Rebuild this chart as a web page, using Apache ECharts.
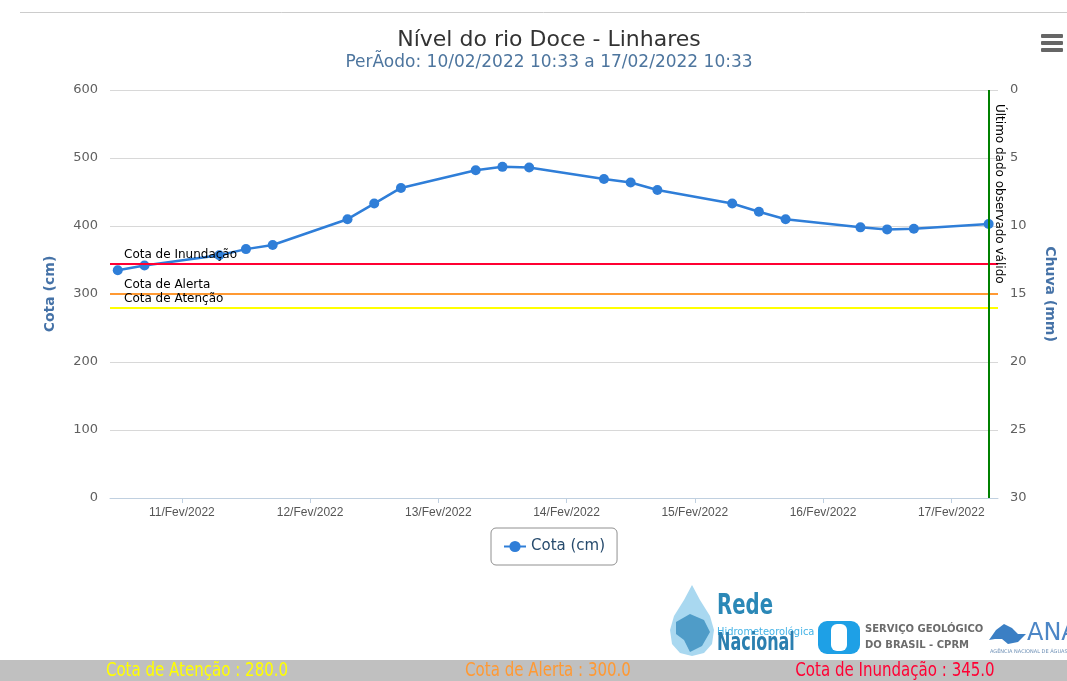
<!DOCTYPE html>
<html>
<head>
<meta charset="utf-8">
<script src="https://cdn.jsdelivr.net/npm/echarts@6/dist/echarts.min.js"></script>
<style>
html,body{margin:0;padding:0;background:#fff;}
#chart{width:1067px;height:681px;}
</style>
</head>
<body>
<div id="chart"></div>
<script>
// ---- data ----
var titleText = 'Nível do rio Doce - Linhares';
var subtitleText = 'PerÃodo: 10/02/2022 10:33 a 17/02/2022 10:33';
var times = ['2022-02-10 12:00','2022-02-10 17:00','2022-02-11 07:00','2022-02-11 12:00','2022-02-11 17:00',
  '2022-02-12 07:00','2022-02-12 12:00','2022-02-12 17:00','2022-02-13 07:00','2022-02-13 12:00','2022-02-13 17:00',
  '2022-02-14 07:00','2022-02-14 12:00','2022-02-14 17:00','2022-02-15 07:00','2022-02-15 12:00','2022-02-15 17:00',
  '2022-02-16 07:00','2022-02-16 12:00','2022-02-16 17:00','2022-02-17 07:00'];
var cota = [335,342,357,366,372,410,433,456,482,487,486,469,464,453,433,421,410,398,395,396,403];
var xMin = '2022-02-10 10:33';
var xMax = '2022-02-17 08:45';
var monthNames = ['Jan','Fev','Mar','Abr','Mai','Jun','Jul','Ago','Set','Out','Nov','Dez'];
var thresholdNames = ['Cota de Atenção','Cota de Alerta','Cota de Inundação'];
var thresholdValues = [280, 300, 345];
var thresholdColors = ['#ffff00','#ff9933','#ff0033'];
var lastLabel = 'Último dado observado válido';
var seriesName = 'Cota (cm)';
var leftAxisName = 'Cota (cm)';
var rightAxisName = 'Chuva (mm)';

function parseT(s){
  var p = s.split(/[- :]/).map(Number);
  return new Date(p[0], p[1]-1, p[2], p[3], p[4]).getTime();
}
var seriesData = times.map(function(t,i){ return [parseT(t), cota[i]]; });
var lastT = parseT(times[times.length-1]);

var markData = thresholdValues.map(function(v,i){
  return {yAxis: v, name: thresholdNames[i], lineStyle:{color: thresholdColors[i], width:2, type:'solid'}};
});
markData.push([
  {xAxis: lastT, yAxis: 600, name: lastLabel, lineStyle:{color:'#008000', width:2, type:'solid'},
   label:{position:'insideStartTop', distance:[14,4]}},
  {xAxis: lastT, yAxis: 0}
]);

var NARROW = '"Liberation Sans Narrow","Arial Narrow","DejaVu Sans Condensed","DejaVu Sans",sans-serif';
var bottomTextCenters = [197, 548, 895];
var graphics = [
  {type:'line', shape:{x1:20,y1:12.5,x2:1067,y2:12.5}, style:{stroke:'#cccccc', lineWidth:1}, silent:true},
  {type:'text', x:549, y:40, style:{text:titleText, fill:'#333333', font:'22px "DejaVu Sans"', align:'center', verticalAlign:'middle'}},
  {type:'text', x:549, y:63, style:{text:subtitleText, fill:'#4d759e', font:'17px "DejaVu Sans"', align:'center', verticalAlign:'middle'}},
  {type:'rect', shape:{x:1041,y:34,width:22,height:4,r:1}, style:{fill:'#666'}},
  {type:'rect', shape:{x:1041,y:41,width:22,height:4,r:1}, style:{fill:'#666'}},
  {type:'rect', shape:{x:1041,y:48,width:22,height:4,r:1}, style:{fill:'#666'}},
  {type:'rect', shape:{x:0,y:660,width:1067,height:21}, style:{fill:'#c0c0c0'}},
  // logos (approximate)
  {type:'polygon', shape:{points:[[692,585],[684,600],[674,616],[670,630],[672,644],[680,653],[692,656],[704,653],[712,644],[714,630],[710,616],[700,600]]}, style:{fill:'#a9d8f0'}},
  {type:'polygon', shape:{points:[[676,622],[690,614],[704,620],[710,632],[702,646],[690,652],[684,640],[676,634]]}, style:{fill:'#4f9cc8'}},
  {type:'text', x:717, y:621, scaleX:0.68, style:{text:'Rede', fill:'#2b88b7', font:'bold 29px "DejaVu Sans"', verticalAlign:'bottom'}},
  {type:'text', x:717, y:632, scaleX:0.9, style:{text:'Hidrometeorológica', fill:'#44b3e6', font:'11px "DejaVu Sans"', verticalAlign:'middle'}},
  {type:'text', x:717, y:656, scaleX:0.64, style:{text:'Nacional', fill:'#2b7fb0', font:'bold 25px "DejaVu Sans"', verticalAlign:'bottom'}},
  {type:'rect', shape:{x:818,y:621,width:42,height:33,r:9}, style:{fill:'#1ea0e6'}},
  {type:'rect', shape:{x:831,y:624,width:16,height:27,r:6}, style:{fill:'#ffffff'}},
  {type:'text', x:865, y:629, style:{text:'SERVIÇO GEOLÓGICO', fill:'#6b6b6b', font:'bold 10px "DejaVu Sans"', verticalAlign:'middle'}},
  {type:'text', x:865, y:645, style:{text:'DO BRASIL - CPRM', fill:'#6b6b6b', font:'bold 10px "DejaVu Sans"', verticalAlign:'middle'}},
  {type:'polygon', shape:{points:[[989,640],[996,630],[1004,624],[1012,628],[1018,634],[1026,634],[1018,642],[1008,644],[1002,639],[995,639]]}, style:{fill:'#3b7fc4'}},
  {type:'text', x:1027, y:634, style:{text:'ANA', fill:'#4c86c6', font:'24px "DejaVu Sans"', verticalAlign:'middle'}},
  {type:'text', x:990, y:652, style:{text:'AGÊNCIA NACIONAL DE ÁGUAS', fill:'#6d8fb5', font:'5px "DejaVu Sans"', verticalAlign:'middle'}}
];
thresholdNames.forEach(function(n,i){
  graphics.push({type:'text', x:bottomTextCenters[i], y:671, scaleX:0.88, style:{
    text: n + ' : ' + thresholdValues[i].toFixed(1), fill: thresholdColors[i],
    font:'19px ' + NARROW, align:'center', verticalAlign:'middle'}});
});

var chart = echarts.init(document.getElementById('chart'), null, {renderer:'canvas'});
chart.setOption({
  animation:false,
  backgroundColor:'#ffffff',
  grid:{left:110, right:69, top:90, bottom:183, containLabel:false},
  legend:{
    left:491, top:528, padding:[11,12], borderColor:'#909090', borderWidth:1, borderRadius:5,
    itemWidth:22, itemHeight:14,
    textStyle:{color:'#274b6d', fontSize:15, fontFamily:'DejaVu Sans'},
    data:[seriesName]
  },
  xAxis:{
    type:'time', min:parseT(xMin), max:parseT(xMax),
    minInterval:86400000, maxInterval:86400000,
    axisLine:{lineStyle:{color:'#C0D0E0'}},
    axisTick:{show:true, length:5, lineStyle:{color:'#C0D0E0'}},
    splitLine:{show:false},
    axisLabel:{color:'#555555', fontSize:12, fontFamily:'Liberation Sans', margin:9,
      showMinLabel:false, showMaxLabel:false,
      formatter:function(v){ var d=new Date(v); var dd=d.getDate(); return (dd<10?'0':'')+dd+'/'+monthNames[d.getMonth()]+'/'+d.getFullYear(); }}
  },
  yAxis:[{
    type:'value', min:0, max:600, interval:100,
    name:leftAxisName, nameLocation:'middle', nameGap:53,
    nameTextStyle:{color:'#4572a7', fontSize:14, fontWeight:'bold', fontFamily:'DejaVu Sans'},
    axisLine:{show:false}, axisTick:{show:false},
    splitLine:{lineStyle:{color:'#d8d8d8'}},
    axisLabel:{color:'#606060', fontSize:13, fontFamily:'DejaVu Sans', margin:12}
  },{
    type:'value', min:0, max:30, interval:5, inverse:true, position:'right',
    name:rightAxisName, nameLocation:'middle', nameGap:45, nameRotate:-90,
    nameTextStyle:{color:'#4572a7', fontSize:14, fontWeight:'bold', fontFamily:'DejaVu Sans'},
    axisLine:{show:false}, axisTick:{show:false}, splitLine:{show:false},
    axisLabel:{color:'#606060', fontSize:13, fontFamily:'DejaVu Sans', margin:12}
  }],
  series:[{
    name:seriesName, type:'line', yAxisIndex:0, data:seriesData,
    color:'#2f7ed8', lineStyle:{width:2.5, color:'#2f7ed8'},
    symbol:'circle', symbolSize:10, showSymbol:true,
    itemStyle:{color:'#2f7ed8'},
    markLine:{
      silent:true, symbol:['none','none'],
      label:{show:true, position:'insideStartTop', distance:[14,3], formatter:'{b}', color:'#000', fontSize:12, fontFamily:'DejaVu Sans'},
      data:markData
    }
  }],
  graphic:graphics
});
</script>
</body>
</html>
